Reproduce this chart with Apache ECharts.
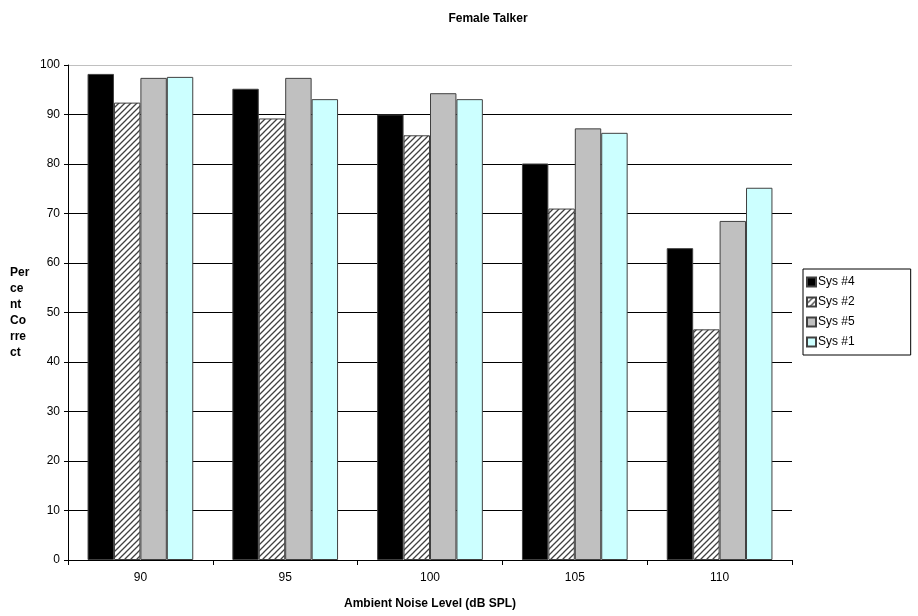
<!DOCTYPE html>
<html><head><meta charset="utf-8">
<script src="https://cdn.jsdelivr.net/npm/echarts@6/dist/echarts.min.js"></script>
<style>html,body{margin:0;padding:0;background:#fff}#c{width:918px;height:616px}</style>
</head><body><div id="c"></div>
<script>
const categories = ['90','95','100','105','110'];
const seriesNames = ['Sys #4','Sys #2','Sys #5','Sys #1'];
const sys4 = [98.2, 95.2, 90.0, 80.1, 63.0];
const sys2 = [92.4, 89.2, 85.8, 71.0, 46.6];
const sys5 = [97.4, 97.4, 94.3, 87.2, 68.5];
const sys1 = [97.6, 93.1, 93.1, 86.3, 75.2];
const yTicks = [0,10,20,30,40,50,60,70,80,90,100];

function hatch(){
  const c = document.createElement('canvas');
  c.width = 6; c.height = 6;
  const g = c.getContext('2d');
  g.fillStyle = '#fff'; g.fillRect(0,0,6,6);
  g.strokeStyle = '#404040'; g.lineWidth = 1.3;
  g.beginPath();
  g.moveTo(-1,7); g.lineTo(7,-1);
  g.moveTo(-4,4); g.lineTo(4,-4);
  g.moveTo(2,10); g.lineTo(10,2);
  g.stroke();
  return c;
}
const pat = {image: hatch(), repeat: 'repeat'};
const colors = ['#000000', pat, '#C0C0C0', '#CCFFFF'];
const data = [sys4, sys2, sys5, sys1];
const font = 'Liberation Sans, Arial, sans-serif';

const chart = echarts.init(document.getElementById('c'), null, {renderer:'canvas'});
const splitColors = yTicks.map((v,i)=> i===yTicks.length-1 ? '#c0c0c0' : '#000');
chart.setOption({
  animation:false,
  title:{text:'Female Talker', left:483, textAlign:'center', top:8,
    textStyle:{fontFamily:font, fontSize:12, fontWeight:'bold', color:'#000'}},
  grid:{left:68, right:126, top:65, bottom:56},
  legend:{orient:'vertical', left:803, top:269, itemWidth:9, itemHeight:9, itemGap:8,
    padding:[7,56,7,3], borderColor:'#000', borderWidth:1, borderRadius:0,
    textStyle:{fontFamily:font, fontSize:12, color:'#000', padding:[0,0,0,-3]},
    icon:'rect', data: seriesNames},
  xAxis:{type:'category', data:categories,
    name:'Ambient Noise Level (dB SPL)', nameLocation:'middle', nameGap:38,
    nameTextStyle:{fontFamily:font, fontSize:12, fontWeight:'bold', color:'#000'},
    axisLine:{lineStyle:{color:'#000', width:1}},
    axisTick:{show:true, length:5, lineStyle:{color:'#000'}},
    axisLabel:{fontFamily:font, fontSize:12, color:'#000', margin:12}},
  yAxis:{type:'value', min:0, max:100, interval:10,
    name:'Per\nce\nnt\nCo\nrre\nct', nameLocation:'middle', nameRotate:0, nameGap:58,
    nameTextStyle:{fontFamily:font, fontSize:12, fontWeight:'bold', color:'#000', lineHeight:16, align:'left'},
    axisLine:{show:true, lineStyle:{color:'#000'}},
    axisTick:{show:true, length:4, lineStyle:{color:'#000'}},
    axisLabel:{fontFamily:font, fontSize:12, color:'#000', margin:8},
    splitLine:{show:true, lineStyle:{color:splitColors, width:1}}},
  series: seriesNames.map((n,i)=>({
    name:n, type:'bar', data:data[i], barGap:'0%', barCategoryGap:'27%',
    itemStyle:{color:colors[i], borderColor:'#404040', borderWidth:1}
  }))
});
</script></body></html>
